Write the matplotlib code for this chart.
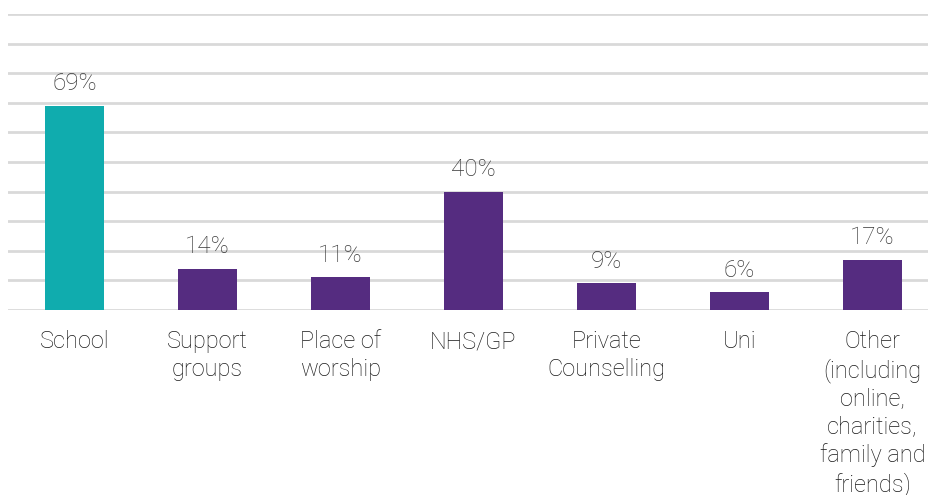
import numpy as np
import matplotlib.pyplot as plt

categories = ['School', 'Support\ngroups', 'Place of\nworship', 'NHS/GP',
              'Private\nCounselling', 'Uni',
              'Other\n(including\nonline,\ncharities,\nfamily and\nfriends)']
values = [69, 14, 11, 40, 9, 6, 17]
bar_colors = ['#10ACAE', '#552C80', '#552C80', '#552C80', '#552C80', '#552C80', '#552C80']

plt.rcParams['font.family'] = ['Roboto', 'DejaVu Sans']

fig = plt.figure(figsize=(9.29, 4.95), dpi=100)
# axes spans slightly past the right edge, like the original
ax = fig.add_axes([8/929, 1 - 310/495, 931/929, 296/495])

x = np.arange(len(categories))
ax.bar(x, values, width=0.45, color=bar_colors, zorder=3)

for xi, v in zip(x, values):
    ax.text(xi, v + 3.5, f'{v}%', ha='center', va='bottom', fontsize=17.5,
            color='#383838', fontweight='light')

ax.set_xlim(-0.5, len(categories) - 0.5)
ax.set_ylim(0, 100)
ax.set_yticks(np.arange(0, 101, 10))
ax.yaxis.grid(True, color='#D9D9D9', linewidth=2)
ax.set_axisbelow(True)
ax.tick_params(axis='y', left=False, labelleft=False)
ax.tick_params(axis='x', bottom=False, pad=11)
ax.set_xticks(x)
ax.set_xticklabels(categories, fontsize=17, color='#1a1a1a', fontweight='light',
                   linespacing=1.26, va='top')
for s in ax.spines.values():
    s.set_visible(False)

fig.savefig('out.png', dpi=100)
